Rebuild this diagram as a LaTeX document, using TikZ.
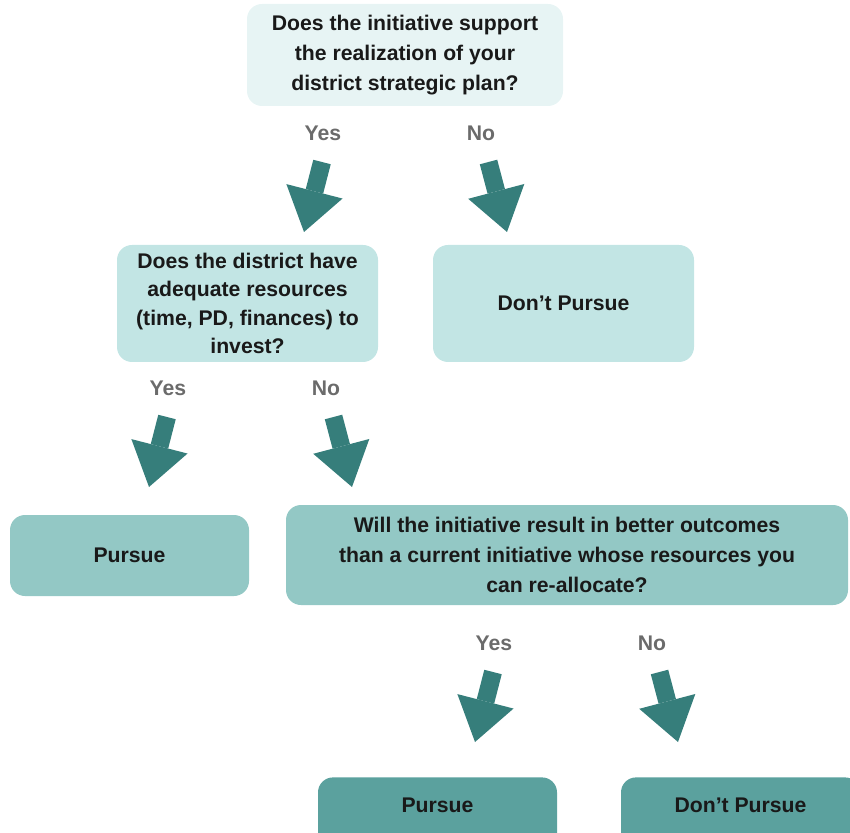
\documentclass[tikz,border=0pt]{standalone}
\usepackage{fontspec}
\setmainfont{Liberation Sans}
\usepackage{tikz}
\usetikzlibrary{arrows.meta,positioning}

\definecolor{paleteal}{HTML}{E7F4F4}
\definecolor{lightteal}{HTML}{C2E5E4}
\definecolor{midteal}{HTML}{93C8C5}
\definecolor{darkteal}{HTML}{5BA19E}
\definecolor{arrowteal}{HTML}{367E7B}
\definecolor{answergray}{HTML}{6B6B6B}

\begin{document}
\begin{tikzpicture}[x=0.5pt,y=-0.5pt,
  font=\bfseries\fontsize{10.6}{15}\selectfont,
  box/.style={rounded corners=7.5pt,align=center,inner sep=0pt,text=black!90},
  cutbox/.style={box,anchor=north,minimum width=119.5pt,text height=17.75pt,text depth=22.25pt},
  answer/.style={text=answergray},
  fat/.style={draw,color=arrowteal,line width=9pt,
    -{Triangle[length=21pt,width=29pt,line width=0pt]}}]
\useasboundingbox (0,0) rectangle (850,833);
\clip (0,0) rectangle (850,833);

\node[box,fill=paleteal,minimum width=158pt,minimum height=51pt] (q_0) at (405,55)
  {Does the initiative support\\the realization of your\\district strategic plan?};
\node[box,fill=lightteal,minimum width=130.5pt,minimum height=58.5pt,
  font=\bfseries\fontsize{10.6}{14.3}\selectfont] (q_1) at (247.5,303.5)
  {Does the district have\\adequate resources\\(time, PD, finances) to\\invest?};
\node[box,fill=lightteal,minimum width=130.5pt,minimum height=58.5pt] (q_2) at (563.5,303.5) {Don’t Pursue};
\node[box,fill=midteal,minimum width=119.5pt,minimum height=40.5pt] (q_1_1) at (129.5,555.5) {Pursue};
\node[box,fill=midteal,minimum width=281pt,minimum height=50pt] (q_1_2) at (567,555)
  {Will the initiative result in better outcomes\\than a current initiative whose resources you\\can re-allocate?};
\node[cutbox,fill=darkteal] (q_3) at (437.5,777) {Pursue};
\node[cutbox,fill=darkteal] (q_4) at (740.5,777) {Don’t Pursue};

\node[answer] (yes_0) at (323,133) {Yes};
\node[answer] (no_0) at (481,133) {No};
\node[answer] (yes_1) at (168,388) {Yes};
\node[answer] (no_1) at (326,388) {No};
\node[answer] (yes_2) at (494,643) {Yes};
\node[answer] (no_2) at (652,643) {No};

% fat arrows under each answer
\foreach \i in {0,1,2} {
  \coordinate (yes_top_\i) at ([shift={(-1,29)}]yes_\i.center);
  \coordinate (yes_tip_\i) at ([shift={(-19,99)}]yes_\i.center);
  \coordinate (no_top_\i) at ([shift={(7.5,29)}]no_\i.center);
  \coordinate (no_tip_\i) at ([shift={(26,99)}]no_\i.center);
  \draw[fat] (yes_top_\i) -- (yes_tip_\i);
  \draw[fat] (no_top_\i) -- (no_tip_\i);
}
\end{tikzpicture}
\end{document}
